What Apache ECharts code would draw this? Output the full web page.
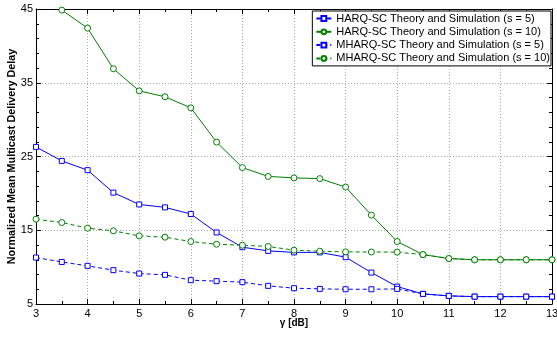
<!DOCTYPE html>
<html>
<head>
<meta charset="utf-8">
<script src="https://cdn.jsdelivr.net/npm/echarts@6/dist/echarts.min.js"></script>
<style>
html,body{margin:0;padding:0;background:#fff;}
#c{width:557px;height:337px;}
</style>
</head>
<body>
<div id="c"></div>
<script>
const gammaDb = [3,3.5,4,4.5,5,5.5,6,6.5,7,7.5,8,8.5,9,9.5,10,10.5,11,11.5,12,12.5,13];
const harqS5  = [26.3,24.4,23.15,20.1,18.5,18.1,17.2,14.7,12.7,12.2,12.0,12.0,11.35,9.26,7.36,6.37,6.1,6.0,6.0,6.0,6.0];
const harqS10 = [null,44.85,42.4,36.9,33.9,33.1,31.6,26.95,23.5,22.3,22.1,22.0,20.85,17.05,13.47,11.7,11.16,11.0,11.0,11.0,11.0];
const mharqS5  = [11.3,10.7,10.17,9.59,9.13,8.95,8.23,8.1,7.96,7.46,7.14,7.05,7.0,7.0,7.05,6.37,6.1,6.0,6.0,6.0,6.0];
const mharqS10 = [16.5,16.05,15.28,14.92,14.24,14.06,13.47,13.1,12.97,12.8,12.3,12.16,12.07,12.05,12.03,11.7,11.16,11.0,11.0,11.0,11.0];
const seriesNames = [
  'HARQ-SC Theory and Simulation (s = 5)',
  'HARQ-SC Theory and Simulation (s = 10)',
  'MHARQ-SC Theory and Simulation (s = 5)',
  'MHARQ-SC Theory and Simulation (s = 10)'
];
const xTicks = {min:3, max:13, interval:1};
const yTicks = {min:5, max:45, interval:10};

const FONT = 'Liberation Sans, Arial, sans-serif';
const BLUE = '#0000ff', GREEN = '#008000';

function pairs(ys){ return gammaDb.map((x,i)=>[x, ys[i]]); }

function mkSeries(name, ys, color, dashed, symbol, size){
  return {
    name, type:'line', data:pairs(ys), xAxisIndex:0, yAxisIndex:0,
    symbol, symbolSize:size, showSymbol:true,
    lineStyle:{color, width:1, type: dashed ? [4,3] : 'solid'},
    itemStyle:{color:'#fff', borderColor:color, borderWidth:1},
    emphasis:{disabled:true}, animation:false, clip:true
  };
}

const chart = echarts.init(document.getElementById('c'), null, {renderer:'canvas'});
const axisCommon = {
  axisLine:{show:true, onZero:false, lineStyle:{color:'#000', width:1}},
  axisTick:{show:true, inside:true, length:5, lineStyle:{color:'#000'}}
};
chart.setOption({
  animation:false,
  backgroundColor:'#fff',
  grid:{left:36, right:5, top:9, bottom:33, containLabel:false, outerBoundsMode:'none'},
  xAxis:[
    Object.assign({type:'value', position:'bottom', min:xTicks.min, max:xTicks.max, interval:xTicks.interval,
      name:'γ [dB]', nameLocation:'middle', nameGap:14.5, nameMoveOverlap:false,
      nameTextStyle:{fontFamily:FONT, fontSize:10, fontWeight:'bold', color:'#000'},
      axisLabel:{fontFamily:FONT, fontSize:11, color:'#000', margin:4},
      splitLine:{show:true, lineStyle:{color:'#aaa', type:[1,2], width:1}}
    }, axisCommon, {minorTick:{show:true, splitNumber:2, length:3, lineStyle:{color:'#000'}}}),
    Object.assign({type:'value', position:'top', min:xTicks.min, max:xTicks.max, interval:xTicks.interval,
      axisLabel:{show:false}, splitLine:{show:false}
    }, axisCommon, {minorTick:{show:true, splitNumber:2, length:3, lineStyle:{color:'#000'}}})
  ],
  yAxis:[
    Object.assign({type:'value', position:'left', min:yTicks.min, max:yTicks.max, interval:yTicks.interval,
      name:'Normalized Mean Multicast Delivery Delay', nameLocation:'middle', nameGap:18, nameMoveOverlap:false,
      nameTextStyle:{fontFamily:FONT, fontSize:10.8, fontWeight:'bold', color:'#000'},
      axisLabel:{fontFamily:FONT, fontSize:11, color:'#000', margin:3},
      splitLine:{show:true, lineStyle:{color:'#aaa', type:[1,2], width:1}}
    }, axisCommon, {minorTick:{show:true, splitNumber:5, length:3, lineStyle:{color:'#000'}}}),
    Object.assign({type:'value', position:'right', min:yTicks.min, max:yTicks.max, interval:yTicks.interval,
      axisLabel:{show:false}, splitLine:{show:false}
    }, axisCommon, {minorTick:{show:true, splitNumber:5, length:3, lineStyle:{color:'#000'}}})
  ],
  legend:{
    orient:'vertical', right:6, top:11,
    data:seriesNames,
    itemWidth:15, itemHeight:6, itemGap:2.3,
    padding:[2,1,2,3],
    borderColor:'#000', borderWidth:1, backgroundColor:'#fff',
    textStyle:{fontFamily:FONT, fontSize:11, lineHeight:11, color:'#000'},
    selectedMode:false
  },
  series:[
    mkSeries(seriesNames[0], harqS5, BLUE, false, 'rect', 5),
    mkSeries(seriesNames[1], harqS10, GREEN, false, 'circle', 6),
    mkSeries(seriesNames[2], mharqS5, BLUE, true, 'rect', 5),
    mkSeries(seriesNames[3], mharqS10, GREEN, true, 'circle', 6)
  ]
});
</script>
</body>
</html>
